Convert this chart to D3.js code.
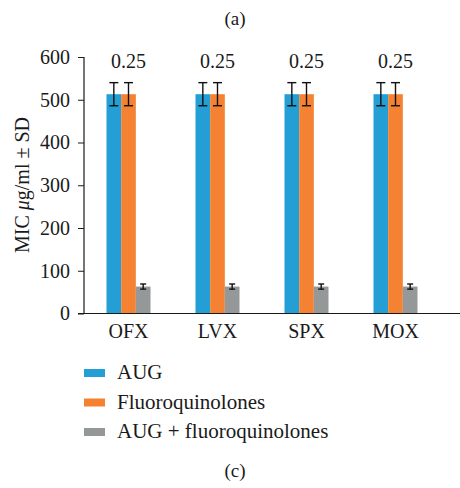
<!DOCTYPE html>
<html>
<head>
<meta charset="utf-8">
<script src="https://cdn.jsdelivr.net/npm/d3@7"></script>
<style>
  body { margin: 0; background: #fff; }
  text { font-family: "Liberation Serif", "DejaVu Serif", serif; fill: #1a1a1a; }
</style>
</head>
<body>
<svg id="chart" width="460" height="488"></svg>
<script>
var drugs = ["OFX", "LVX", "SPX", "MOX"];
var series = ["AUG", "Fluoroquinolones", "AUG + fluoroquinolones"];
var aug_values = [513, 513, 513, 513];
var fq_values = [513, 513, 513, 513];
var combo_values = [63, 63, 63, 63];
var aug_sd = [27, 27, 27, 27];
var fq_sd = [27, 27, 27, 27];
var combo_sd = [6, 6, 6, 6];
var top_labels = ["0.25", "0.25", "0.25", "0.25"];
var y_ticks = [0, 100, 200, 300, 400, 500, 600];

var colors = ["#239fd5", "#f58233", "#959899"];
var values = [aug_values, fq_values, combo_values];
var sds = [aug_sd, fq_sd, combo_sd];

var left = 84, right = 440, top_y = 57, bottom_y = 313.5;

const svg = d3.select("#chart");

var x = d3.scaleBand().domain(drugs).range([left, right]);
var xs = d3.scaleBand().domain(d3.range(series.length))
            .range([-22, 22]);
var y = d3.scaleLinear().domain([0, 600]).range([bottom_y, top_y]);

// titles
svg.append("text").attr("x", 235).attr("y", 25)
    .attr("text-anchor", "middle").attr("font-size", 19).text("(a)");
svg.append("text").attr("x", 235).attr("y", 477)
    .attr("text-anchor", "middle").attr("font-size", 19).text("(c)");

// bars
var flat = [];
drugs.forEach((d, i) => {
    series.forEach((s, j) => {
        flat.push({drug: d, s: j, v: values[j][i], sd: sds[j][i]});
    });
});

svg.selectAll(".bar")
    .data(flat)
    .enter()
    .append("rect")
    .attr("class", "bar")
    .attr("x", d => x(d.drug) + x.bandwidth() / 2 + xs(d.s))
    .attr("y", d => y(d.v))
    .attr("width", xs.bandwidth())
    .attr("height", d => y(0) - y(d.v))
    .attr("fill", d => colors[d.s]);

// error bars
var err = svg.selectAll(".err")
    .data(flat)
    .enter()
    .append("g")
    .attr("class", "err")
    .attr("stroke", "#111")
    .attr("stroke-width", 1.4);

err.each(function(d) {
    let g = d3.select(this);
    let cx = x(d.drug) + x.bandwidth() / 2 + xs(d.s) + xs.bandwidth() / 2;
    let half = d.s == 2 ? 3 : 4.5;
    g.append("line").attr("x1", cx).attr("x2", cx)
        .attr("y1", y(d.v + d.sd)).attr("y2", y(d.v - d.sd));
    g.append("line").attr("x1", cx - half).attr("x2", cx + half)
        .attr("y1", y(d.v + d.sd)).attr("y2", y(d.v + d.sd));
    g.append("line").attr("x1", cx - half).attr("x2", cx + half)
        .attr("y1", y(d.v - d.sd)).attr("y2", y(d.v - d.sd));
});

// labels above bars
svg.selectAll(".top_label")
    .data(drugs)
    .enter()
    .append("text")
    .attr("class", "top_label")
    .attr("x", d => x(d) + x.bandwidth() / 2)
    .attr("y", 68)
    .attr("text-anchor", "middle")
    .attr("font-size", 20)
    .text((d, i) => top_labels[i]);

// y axis
var y_axis = svg.append("g")
    .attr("transform", "translate(" + left + ",0)")
    .call(d3.axisLeft(y).tickValues(y_ticks).tickSize(6).tickPadding(8));
y_axis.select(".domain").attr("stroke", "#1a1a1a").attr("stroke-width", 1.2)
    .attr("d", "M0," + y(600) + "V" + y(0));
y_axis.selectAll(".tick line").attr("stroke", "#1a1a1a");
y_axis.selectAll(".tick text").attr("font-size", 20)
    .attr("fill", "#1a1a1a");

// x axis
var x_axis = svg.append("g")
    .attr("transform", "translate(0," + bottom_y + ")")
    .call(d3.axisBottom(x).tickSize(0).tickPadding(10));
x_axis.select(".domain").attr("stroke", "#1a1a1a").attr("stroke-width", 1.2)
    .attr("d", "M" + (left - 6) + ",0H460");
x_axis.selectAll(".tick text").attr("font-size", 20)
    .attr("fill", "#1a1a1a");

// y title
svg.append("text")
    .attr("transform", "translate(29,185) rotate(-90)")
    .attr("text-anchor", "middle")
    .attr("font-size", 20)
    .html("MIC <tspan font-style='italic'>μ</tspan>g/ml ± SD");

// legend
var legend = svg.selectAll(".legend")
    .data(series)
    .enter()
    .append("g")
    .attr("class", "legend")
    .attr("transform", (d, i) => "translate(84," + (373 + i * 29.5) + ")");
legend.append("rect")
    .attr("x", 0).attr("y", -4).attr("width", 21).attr("height", 8)
    .attr("fill", (d, i) => colors[i]);
legend.append("text")
    .attr("x", 33).attr("y", 6)
    .attr("font-size", 21)
    .text(d => d);
</script>
</body>
</html>
